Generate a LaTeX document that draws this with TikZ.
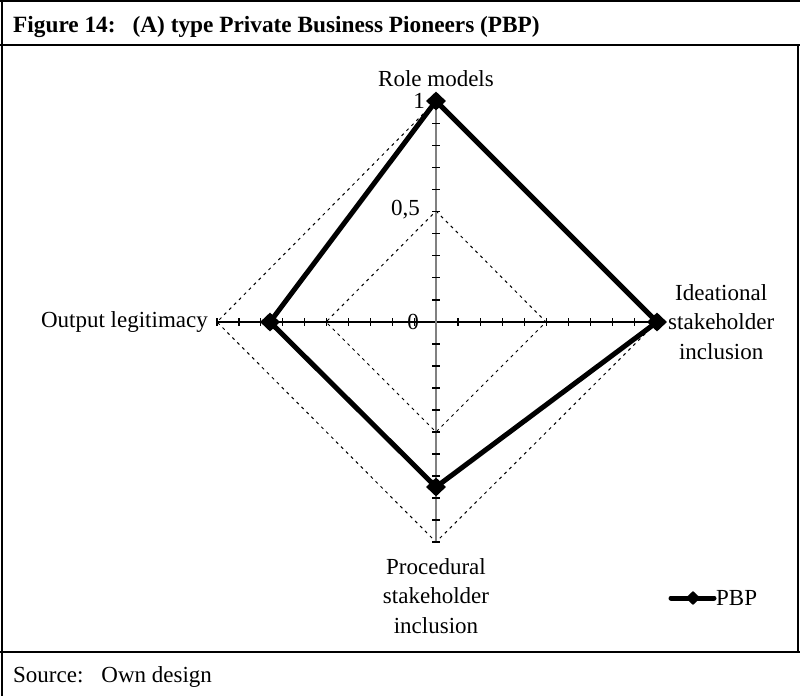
\documentclass[tikz,border=0pt]{standalone}
\usepackage{fontspec}
\setmainfont{Liberation Serif}
\usetikzlibrary{shapes.geometric}
\begin{document}
\begin{tikzpicture}[x=1pt,y=-1pt,
  frameline/.style={line width=2pt,black},
  lbl/.style={font=\fontsize{23}{29.5}\selectfont,inner sep=0pt,align=center},
  gridline/.style={line width=1pt,dash pattern=on 3pt off 4pt,black},
  tickmark/.style={line width=1.2pt,black},
  series/.style={line width=5pt,black,line join=round,line cap=round},
  marker/.style={diamond,fill=black,inner sep=0pt,minimum width=20pt,minimum height=19pt},
  legmarker/.style={diamond,fill=black,inner sep=0pt,minimum width=15pt,minimum height=14pt}]
\useasboundingbox (0,0) rectangle (800,696);
% frame
\draw[frameline] (0,1) -- (800,1);
\draw[frameline] (2,0) -- (2,696);
\draw[frameline] (0,45) -- (800,45);
\draw[frameline] (0,652) -- (800,652);
\draw[frameline] (798,45) -- (798,652);
\node[lbl,anchor=base west,font=\fontsize{23.3}{28}\selectfont\bfseries] (title) at (13,32) {Figure 14:\hspace{17pt}(A) type Private Business Pioneers (PBP)};
\node[lbl,anchor=base west] (source) at (13,682) {Source:\hspace{18pt}Own design};
% coordinates
\coordinate (C) at (436,322);
\coordinate (T) at (436,101);
\coordinate (R) at (657,322);
\coordinate (B) at (436,542);
\coordinate (L) at (217,322);
\coordinate (t5) at (436,211);
\coordinate (r5) at (546,322);
\coordinate (b5) at (436,432);
\coordinate (l5) at (326,322);
% grid
\draw[gridline] (T) -- (R) -- (B) -- (L) -- cycle;
\draw[gridline] (t5) -- (r5) -- (b5) -- (l5) -- cycle;
% axes
\draw[line width=1.2pt,black] (L) -- (R);
\draw[line width=1.2pt,gray] (T) -- (B);
\foreach \k in {1,...,10}{
  \draw[tickmark] ({436+22.05*\k},318) -- ({436+22.05*\k},326);
  \draw[tickmark] ({436-21.9*\k},318) -- ({436-21.9*\k},326);
  \draw[tickmark] (432,{322-22.1*\k}) -- (440,{322-22.1*\k});
  \draw[tickmark] (432,{322+22*\k}) -- (440,{322+22*\k});
}
% scale labels
\node[lbl,anchor=east] (s1) at (425,101) {1};
\node[lbl,anchor=east] (s05) at (420,210) {0,5};
\node[lbl] (s0) at (413,322) {0};
% axis labels
\node[lbl,anchor=south] (rm) at (436,87) {Role models};
\node[lbl,anchor=west] (ideal) at (668,322) {Ideational\\stakeholder\\inclusion};
\node[lbl,anchor=north] (proc) at (436,558) {Procedural\\stakeholder\\inclusion};
\node[lbl,anchor=east] (out) at (208,322) {Output legitimacy};
% series
\node[marker] (p1) at (436,101) {};
\node[marker] (p2) at (657,322) {};
\node[marker] (p3) at (436,487) {};
\node[marker] (p4) at (270,322) {};
\draw[series] (p1.center) -- (p2.center) -- (p3.center) -- (p4.center) -- cycle;
% legend
\coordinate (la) at (671,598);
\coordinate (lb) at (714,598);
\draw[series] (la) -- (lb);
\node[legmarker] (lm) at (693,598) {};
\node[lbl,anchor=west] (legtxt) at (716,598) {PBP};
\end{tikzpicture}
\end{document}
